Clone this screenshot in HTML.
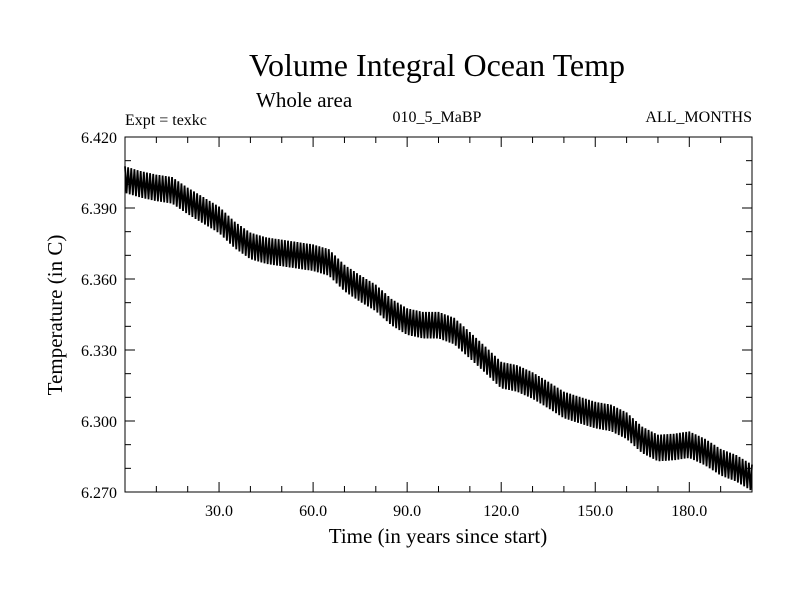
<!DOCTYPE html>
<html><head><meta charset="utf-8"><style>
body{margin:0;background:#fff}
svg text{font-family:"Liberation Serif",serif;fill:#000}
</style></head><body>
<svg id="c" width="800" height="600">
<text x="437" y="76" font-size="32" text-anchor="middle">Volume Integral Ocean Temp</text>
<text x="256" y="107" font-size="21">Whole area</text>
<text x="125" y="125" font-size="16">Expt = texkc</text>
<text x="437" y="122" font-size="16" text-anchor="middle">010_5_MaBP</text>
<text x="752" y="122" font-size="16" text-anchor="end">ALL_MONTHS</text>
<text x="438" y="543" font-size="21" text-anchor="middle">Time (in years since start)</text>
<text x="0" y="0" font-size="21" text-anchor="middle" transform="translate(62,315) rotate(-90)">Temperature (in C)</text>
<g id="ax"></g>
<path id="ln" fill="none" stroke="#000" stroke-width="1.8"></path>
<rect x="125" y="137" width="627" height="355" fill="none" stroke="#000" stroke-width="1"/>
</svg>
<script>
const years=[0,5,10,15,20,25,30,35,40,45,50,55,60,65,70,75,80,85,90,95,100,105,110,115,120,125,130,135,140,145,150,155,160,165,170,175,180,185,190,195,200];
const temps=[6.402,6.400,6.3985,6.3975,6.393,6.389,6.385,6.3786,6.374,6.372,6.371,6.370,6.369,6.367,6.3604,6.356,6.352,6.346,6.342,6.3405,6.3405,6.338,6.332,6.3258,6.3194,6.318,6.315,6.311,6.3068,6.3046,6.3025,6.3013,6.298,6.292,6.2886,6.289,6.290,6.2869,6.2826,6.280,6.276];
const seasonal=[0.0056,0.0038,0.0019,0,-0.0019,-0.0038,-0.0056,-0.0038,-0.0019,0,0.0019,0.0038];
const xTicks=[30,60,90,120,150,180];
const yTicks=[6.270,6.300,6.330,6.360,6.390,6.420];
const X0=125,X1=752,Y0=492,Y1=137;
const sx=v=>X0+(v-0)/(200-0)*(X1-X0);
const sy=v=>Y0-(v-6.27)/(0.15)*(Y0-Y1);
const NS="http://www.w3.org/2000/svg";
const ax=document.getElementById('ax');
function ln(x1,y1,x2,y2,name){const l=document.createElementNS(NS,'line');l.setAttribute('x1',x1);l.setAttribute('y1',y1);l.setAttribute('x2',x2);l.setAttribute('y2',y2);l.setAttribute('stroke','#000');


ax.appendChild(l);}
function tx(x,y,s,anchor,name){const t=document.createElementNS(NS,'text');t.setAttribute('x',x);t.setAttribute('y',y);t.setAttribute('font-size','16');t.setAttribute('text-anchor',anchor);t.textContent=s;


ax.appendChild(t);}
for(let v=10;v<200;v+=10){const x=sx(v);const major=v%30===0;const L=major?10:6;ln(x,Y0,x,Y0-L,'x-tick');ln(x,Y1,x,Y1+L,'x-tick-top');}
xTicks.forEach(v=>tx(sx(v),Y0+24,v.toFixed(1),'middle','x-tick-label'));
for(let i=0;i<=15;i++){const v=6.27+i*0.01;const y=sy(v);const major=i%3===0;const L=major?10:6;ln(X0,y,X0+L,y,'y-tick');ln(X1,y,X1-L,y,'y-tick-right');}
yTicks.forEach(v=>tx(117,sy(v)+6,v.toFixed(3),'end','y-tick-label'));
let d='';
for(let i=0;i<years.length-1;i++){const y0=years[i],y1=years[i+1],t0=temps[i],t1=temps[i+1];
 for(let m=0;m<(y1-y0)*12;m++){const yr=y0+m/12;const f=(yr-y0)/(y1-y0);const v=t0+(t1-t0)*f+seasonal[m%12];
 d+=(d?'L':'M')+sx(yr).toFixed(2)+','+sy(v).toFixed(2);}}
d+='L'+sx(200).toFixed(2)+','+sy(temps[temps.length-1]+seasonal[0]).toFixed(2);
document.getElementById('ln').setAttribute('d',d);
</script>
</body></html>
